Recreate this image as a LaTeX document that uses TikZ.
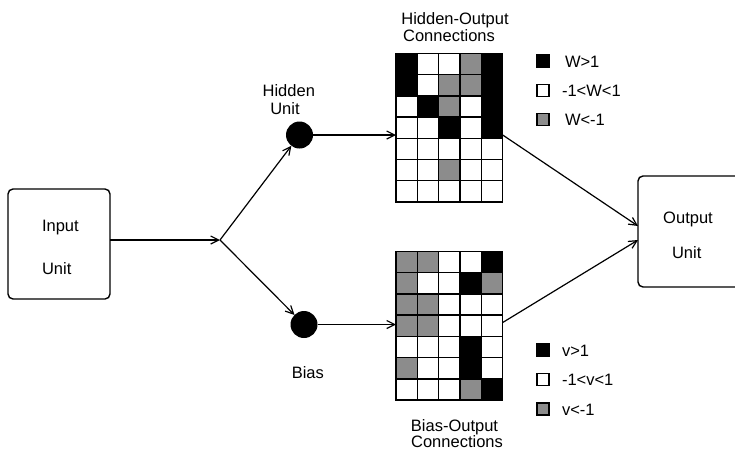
\documentclass[tikz,border=0pt]{standalone}
\usepackage{fontspec}
\setmainfont{Liberation Sans}
\usetikzlibrary{arrows.meta,calc}
\definecolor{cB}{RGB}{0,0,0}
\definecolor{cW}{RGB}{255,255,255}
\definecolor{cG}{RGB}{140,140,140}
\begin{document}
\begin{tikzpicture}[x=1pt,y=-1pt,
  every node/.style={font=\fontsize{16.5}{19}\selectfont, inner sep=0pt, outer sep=0pt},
  unitbox/.style={draw, line width=1.4pt, rounded corners=5pt},
  neuron/.style={circle, fill=black, minimum size=27pt},
  conn/.style={line width=1.2pt, -{Straight Barb[length=8pt,width=8pt,line width=1.2pt]}},
  gridbox/.style={minimum width=106.7pt, minimum height=148.7pt},
  cell/.style={draw=black, line width=1.5pt},
  keybox/.style={draw=black, line width=1.4pt, minimum size=12pt},
  lbl/.style={anchor=base},
  lblw/.style={anchor=base west}]
\useasboundingbox (0,0) rectangle (735,453);
\clip (0,0) rectangle (735,453);

% unit boxes
\node[unitbox, minimum width=102pt, minimum height=110pt] (in) at (59,244) {};
\node[lblw] (inA) at (42,231.5) {Input};
\node[lblw] (inB) at (42,274) {Unit};
\node[unitbox, minimum width=122pt, minimum height=111pt] (out) at (699,231.5) {};
\node[lbl] (outA) at (688,223.3) {Output};
\node[lbl] (outB) at (686.7,258.3) {Unit};

% hidden and bias neurons
\coordinate (j) at (220,240);
\node[neuron] (h) at (299.5,135) {};
\node[neuron] (b) at (304,324.5) {};
\node[lbl] (hA) at (288.8,96.5) {Hidden};
\node[lbl] (hB) at (285,114) {Unit};
\node[lbl] (bA) at (307.8,378.3) {Bias};

% weight grids
\node[gridbox] (hg) at (449.35,127.65) {};
\node[gridbox] (bg) at (449.35,325.85) {};
\newcommand{\weightgrid}[2]{%
  \foreach \row [count=\r] in {#2} {
    \foreach \c [count=\k] in \row {
      \path[cell, fill=c\c]
        ($(#1.north west)+({(\k-1)*21.34},{(\r-1)*21.24})$)
        rectangle ++(21.34,21.24);
    }
  }
}
\weightgrid{hg}{{B,W,W,G,B},{B,W,G,G,B},{W,B,G,W,B},{W,W,B,W,B},{W,W,W,W,W},{W,W,G,W,W},{W,W,W,W,W}}
\weightgrid{bg}{{G,G,W,W,B},{G,W,W,B,G},{G,G,W,W,W},{G,G,W,W,W},{W,W,W,B,W},{G,W,W,B,W},{W,W,W,G,B}}
\node[lbl] (hgA) at (455,24) {Hidden-Output};
\node[lbl] (hgB) at (449,41.7) {Connections};
\node[lbl] (bgA) at (454.5,431) {Bias-Output};
\node[lbl] (bgB) at (457,447.3) {Connections};

% legends
\node[keybox, fill=cB] (k1) at (543,61) {};
\node[keybox, fill=cW] (k2) at (543,90.7) {};
\node[keybox, fill=cG] (k3) at (543,119.3) {};
\node[lblw] (t1) at (565,67) {W>1};
\node[lblw] (t2) at (562,96.7) {-1<W<1};
\node[lblw] (t3) at (565,125.3) {W<-1};
\node[keybox, fill=cB] (k4) at (543,350) {};
\node[keybox, fill=cW] (k5) at (543,379.3) {};
\node[keybox, fill=cG] (k6) at (543,409) {};
\node[lblw] (t4) at (562,356) {v>1};
\node[lblw] (t5) at (562,385.3) {-1<v<1};
\node[lblw] (t6) at (562,415) {v<-1};

% connections
\draw[conn] (in.east |- j) -- (j);
\draw[conn] (j) -- (h);
\draw[conn] (j) -- (b);
\draw[conn] (h) -- (h -| hg.west);
\draw[conn] (b) -- (b -| bg.west);
\draw[conn] (hg.east |- h) -- ([yshift=5.5pt]out.west);
\draw[conn] ([yshift=2pt]bg.east |- b) -- ([yshift=-8.5pt]out.west);
\end{tikzpicture}
\end{document}
